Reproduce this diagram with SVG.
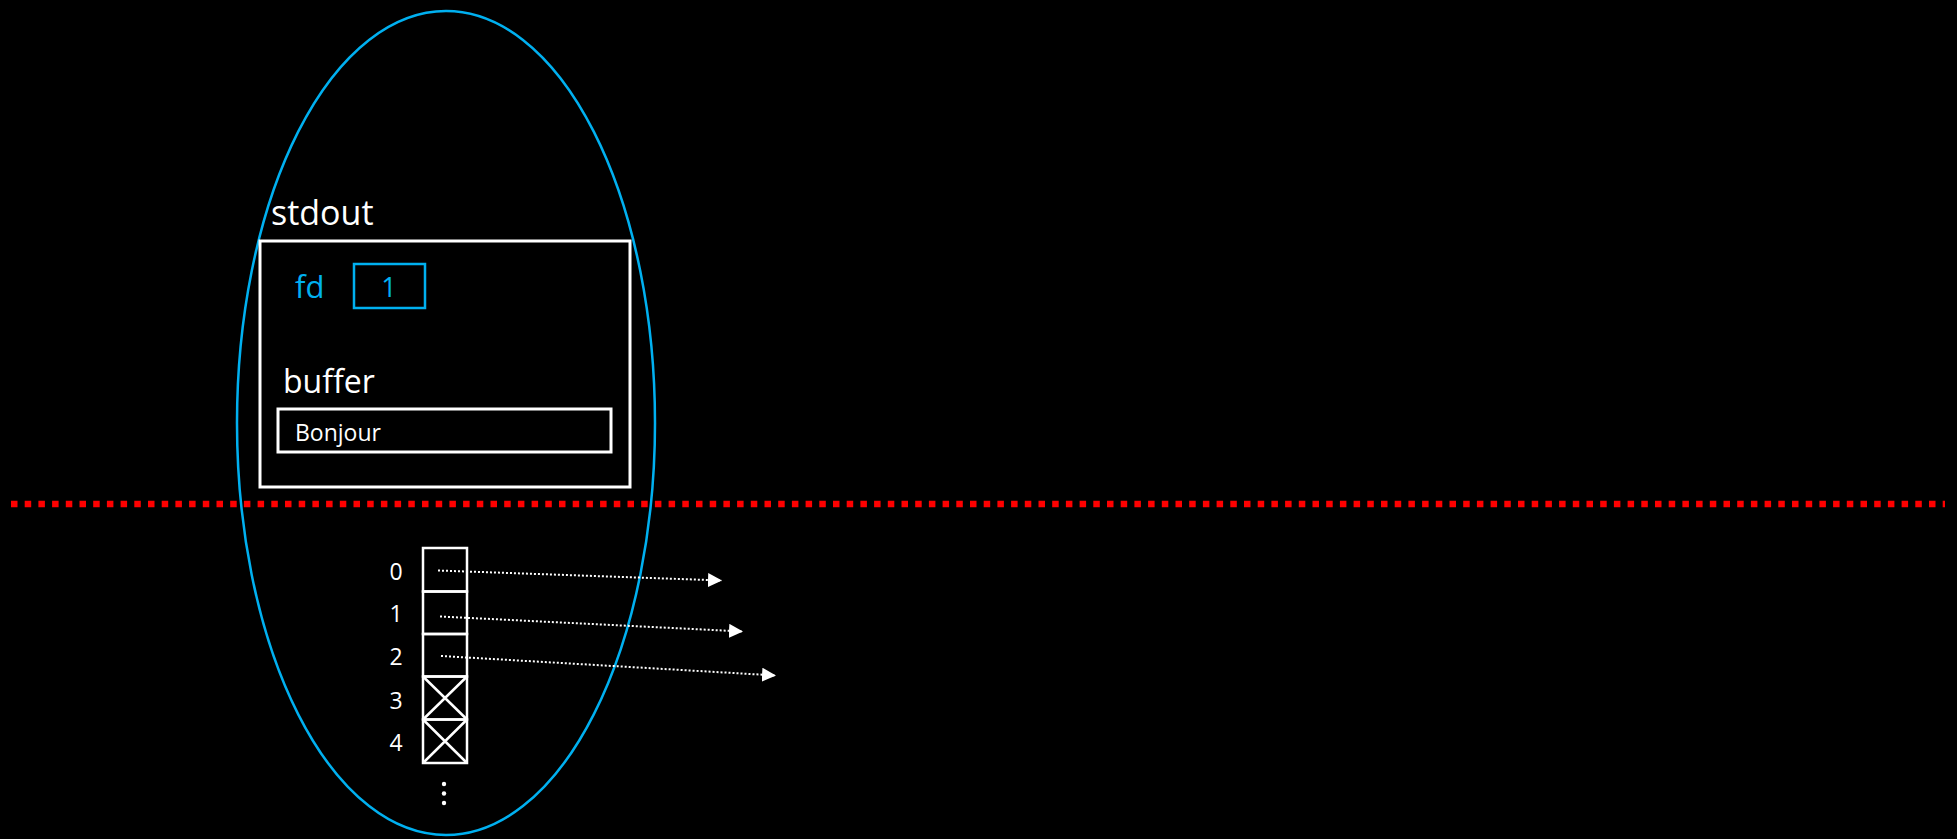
<svg xmlns="http://www.w3.org/2000/svg" width="1957" height="839" viewBox="0 0 1957 839">
  <style>
    .txt { font-family: "Open Sans", "Noto Sans", "Liberation Sans", sans-serif; fill: #ffffff; }
    .blue { fill: #00b0f0; }
    .box { fill: none; stroke: #ffffff; stroke-width: 3; }
    .slot { fill: none; stroke: #ffffff; stroke-width: 2.5; }
    .ptr { fill: none; stroke: #ffffff; stroke-width: 2; stroke-dasharray: 2 2; }
  </style>
  <defs>
    <marker id="arrow" viewBox="0 0 10 10" refX="10" refY="5" markerWidth="7" markerHeight="7" markerUnits="strokeWidth" orient="auto">
      <path d="M0,0 L10,5 L0,10 Z" fill="#ffffff"/>
    </marker>
  </defs>

  <rect width="1957" height="839" fill="#000000"/>

  <!-- process boundary -->
  <g id="process">
    <ellipse cx="446" cy="423" rx="209" ry="412" fill="none" stroke="#00b0f0" stroke-width="2.5"/>
  </g>

  <!-- user / kernel separation -->
  <g id="boundary">
    <line x1="11" y1="504" x2="1945" y2="504" stroke="#ff0000" stroke-width="6.5" stroke-dasharray="6.5 7.2"/>
  </g>

  <!-- FILE structure for stdout -->
  <g id="stdout">
    <text class="txt" x="271" y="225" font-size="34">stdout</text>
    <rect class="box" x="260" y="241" width="370" height="246"/>
    <text class="txt blue" x="295" y="298" font-size="31">fd</text>
    <rect x="354" y="264" width="71" height="44" fill="none" stroke="#00b0f0" stroke-width="2.5"/>
    <text class="txt blue" x="389" y="297" font-size="27" text-anchor="middle">1</text>
    <text class="txt" x="283" y="393" font-size="32">buffer</text>
    <rect class="box" x="278" y="409" width="333" height="43"/>
    <text class="txt" x="295" y="441" font-size="23">Bonjour</text>
  </g>

  <!-- file descriptor table -->
  <g id="fd-table">
    <rect class="slot" x="423" y="548" width="44" height="43.5"/>
    <rect class="slot" x="423" y="591.5" width="44" height="42.5"/>
    <rect class="slot" x="423" y="634" width="44" height="42.5"/>
    <rect class="slot" x="423" y="676.5" width="44" height="43"/>
    <path class="slot" d="M423,676.5 L467,719.5 M467,676.5 L423,719.5"/>
    <rect class="slot" x="423" y="719.5" width="44" height="43.5"/>
    <path class="slot" d="M423,719.5 L467,763 M467,719.5 L423,763"/>
    <g class="txt" font-size="23" text-anchor="middle">
      <text x="396" y="580">0</text>
      <text x="396" y="622">1</text>
      <text x="396" y="665">2</text>
      <text x="396" y="709">3</text>
      <text x="396" y="751">4</text>
    </g>
    <g fill="#ffffff">
      <circle cx="444" cy="784" r="2.2"/>
      <circle cx="444" cy="793.5" r="2.2"/>
      <circle cx="444" cy="803" r="2.2"/>
    </g>
  </g>

  <!-- descriptor pointers -->
  <g id="connectors">
    <line class="ptr" x1="438" y1="570.5" x2="722" y2="580.5" marker-end="url(#arrow)"/>
    <line class="ptr" x1="440" y1="616.5" x2="743" y2="631.5" marker-end="url(#arrow)"/>
    <line class="ptr" x1="441" y1="656" x2="776" y2="675.5" marker-end="url(#arrow)"/>
  </g>

  <!-- slide number -->
  <text class="txt" x="1886" y="858" font-size="26" text-anchor="middle">23</text>
</svg>
